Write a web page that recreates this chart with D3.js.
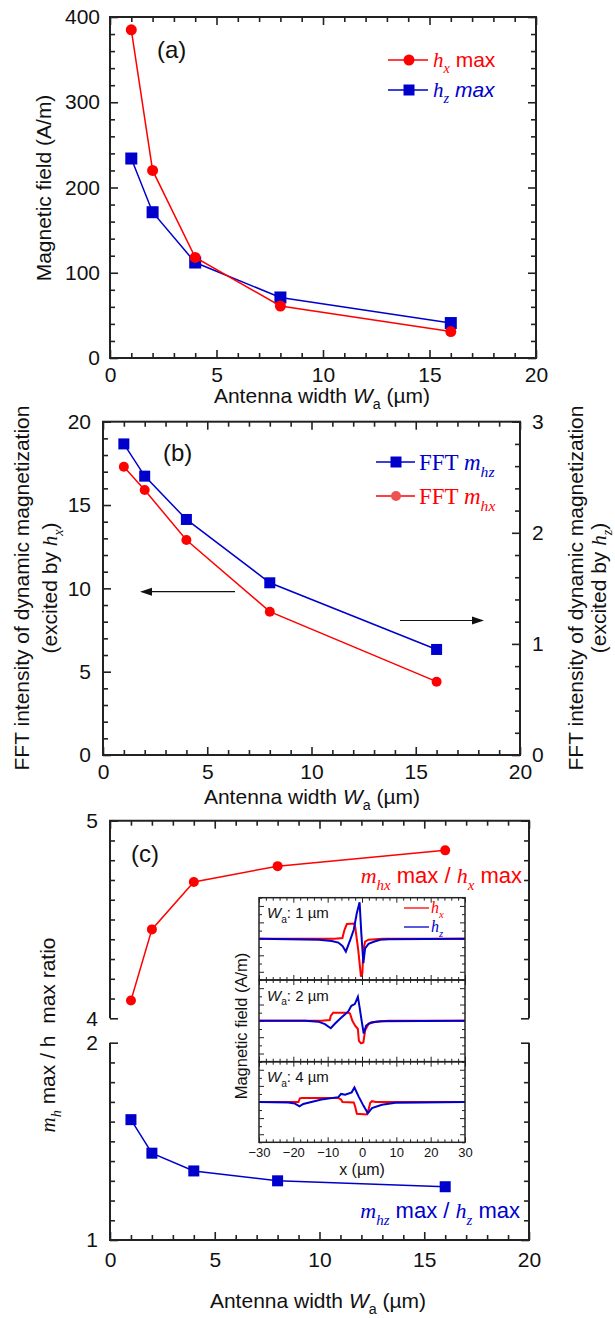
<!DOCTYPE html>
<html><head><meta charset="utf-8">
<script src="https://cdn.jsdelivr.net/npm/d3@7"></script>
<style>body{margin:0;background:#fff}svg{display:block}</style>
</head><body><svg id="chart" width="615" height="1318"></svg>
<script>
// ---------------- data ----------------
const widths = [1, 2, 4, 8, 16];
const hxMax = [385, 220, 118, 61, 31];
const hzMax = [234, 171, 112, 71, 41];
const fftMhx = [17.3, 15.9, 12.9, 8.6, 4.4];      // left axis (excited by hx)
const fftMhz = [2.80, 2.51, 2.12, 1.55, 0.95];    // right axis (excited by hz)
const ratioHx = [4.09, 4.45, 4.69, 4.77, 4.85];
const ratioHz = [1.61, 1.44, 1.35, 1.30, 1.27];
const xTicks = [0, 5, 10, 15, 20];
const fieldTicks = [0, 100, 200, 300, 400];
const fftLeftTicks = [0, 5, 10, 15, 20];
const fftRightTicks = [0, 1, 2, 3];
const ratioUpperTicks = [4, 5];
const ratioLowerTicks = [1, 2];
const insetXTicks = [-30, -20, -10, 0, 10, 20, 30];
const insetWidths = ["1", "2", "4"];
// inset field profiles: [x (µm), field (normalised)]
const profHx1 = [[-30,0],[-7.9,0],[-5.7,0.02],[-5.1,0.22],[-4.4,0.36],[-2.2,0.37],[-2.0,0.30],[-1.1,-0.27],[-0.3,-0.92],[0.1,-0.84],[0.4,-0.27],[0.9,-0.07],[1.9,-0.02],[3.9,-0.01],[6,0],[30,0]];
const profHz1 = [[-30,0],[-12.6,-0.02],[-8.8,-0.05],[-6.9,-0.09],[-5.7,-0.17],[-4.7,-0.31],[-3.4,-0.02],[-2.4,0.22],[-1.5,0.63],[-0.7,0.89],[-0.2,0.14],[0.4,-0.59],[0.9,-0.23],[1.9,-0.12],[3.4,-0.07],[5.3,-0.02],[7.8,-0.01],[30,0]];
const profHx2 = [[-30,0],[-11.8,0],[-9.4,0.02],[-9.1,0.12],[-8.4,0.2],[-4.0,0.2],[-3.5,0.18],[-2.8,0],[-2.0,-0.12],[-1.2,-0.2],[-0.9,-0.49],[-0.3,-0.55],[0.4,-0.53],[0.9,-0.24],[1.9,-0.07],[3.9,-0.02],[7.8,0],[30,0]];
const profHz2 = [[-30,0],[-16.6,0],[-12.7,-0.02],[-10.8,-0.08],[-9.1,-0.18],[-7.9,-0.07],[-6.0,0.08],[-4.0,0.23],[-3.1,0.37],[-2.1,0.41],[-1.2,0.59],[-0.7,0.33],[-0.1,0],[0.5,-0.31],[1.2,-0.12],[2.6,-0.04],[5.5,-0.01],[30,0]];
const profHx3 = [[-30,0],[-18.5,0],[-18.1,0.09],[-17.5,0.1],[-6.9,0.1],[-6.1,0.06],[-5.7,0],[-2.4,-0.01],[-2.0,-0.11],[-1.5,-0.29],[1.4,-0.31],[1.9,-0.19],[2.4,-0.02],[2.9,0.02],[4,0],[30,0]];
const profHz3 = [[-30,0],[-21.5,-0.01],[-19.5,-0.04],[-18.2,-0.11],[-17.1,-0.05],[-11.8,0.06],[-6.9,0.12],[-6.1,0.2],[-4.9,0.18],[-3.0,0.24],[-2.2,0.36],[-1.0,0.14],[0.4,-0.09],[1.7,-0.28],[2.9,-0.15],[5.8,-0.07],[9.7,-0.02],[17.5,-0.01],[30,0]];

// ---------------- style ----------------
const RED = "#ff0000", BLUE = "#0000cc", INK = "#222";
const SANS = "'Liberation Sans', Arial, sans-serif";
const SERIF = "'Liberation Serif', 'Times New Roman', serif";
const svg = d3.select("#chart").style("font-family", SANS);
const TFS = 21;   // tick label size
const LFS = 21;   // axis title size

function range(a, b, s) { const r = []; for (let v = a; v <= b + 1e-9; v += s) r.push(+v.toFixed(6)); return r; }

function rich(sel, parts, size) {
  let shift = 0;
  parts.forEach(p => {
    const ts = sel.append("tspan").text(p.t);
    ts.attr("font-size", p.sub ? size * 0.68 : size);
    if (p.serif) ts.attr("font-family", SERIF);
    if (p.it) ts.attr("font-style", "italic");
    const target = p.sub ? size * 0.3 : 0;
    ts.attr("dy", target - shift);
    shift = target;
  });
  return sel;
}

function axis(g, orient, scale, pos, major, minor, labels, o = {}) {
  const maj = o.maj ?? 8, mn = o.mn ?? 5, pad = o.pad ?? 8, fs = o.fs ?? TFS, sw = o.sw ?? 1.6;
  const Or = orient[0].toUpperCase() + orient.slice(1);
  const tr = (orient === "bottom" || orient === "top") ? `translate(0,${pos})` : `translate(${pos},0)`;
  const minVals = minor.filter(v => !major.some(m => Math.abs(m - v) < 1e-9));
  const a1 = d3[`axis${Or}`](scale).tickValues(minVals).tickSize(-mn).tickFormat("");
  const gm = g.append("g").attr("transform", tr).call(a1);
  const a2 = d3[`axis${Or}`](scale).tickValues(major).tickSize(-maj).tickPadding(pad)
    .tickFormat(labels ? (o.fmt || d3.format("")) : "");
  const gM = g.append("g").attr("transform", tr).call(a2);
  [gm, gM].forEach(s => {
    s.select(".domain").remove();
    s.selectAll("line").attr("stroke", INK).attr("stroke-width", sw);
    s.selectAll("text").attr("font-size", fs).attr("font-family", SANS).attr("fill", "#111");
  });
  return gM;
}

function series(g, xs, ys, xv, yv, color, shape, size) {
  const line = d3.line().x((d, i) => xs(xv[i])).y((d, i) => ys(yv[i]));
  g.append("path").datum(xv).attr("d", line).attr("fill", "none").attr("stroke", color).attr("stroke-width", 1.5);
  xv.forEach((x, i) => marker(g, xs(x), ys(yv[i]), color, shape, size));
}
function marker(g, cx, cy, color, shape, size) {
  if (shape === "c") g.append("circle").attr("cx", cx).attr("cy", cy).attr("r", size / 2).attr("fill", color);
  else g.append("rect").attr("x", cx - size / 2).attr("y", cy - size / 2).attr("width", size).attr("height", size).attr("fill", color);
}
function vlabel(g, x, y, parts, size, color) {
  const t = g.append("text").attr("transform", `translate(${x},${y}) rotate(-90)`)
    .attr("text-anchor", "middle").attr("fill", color || "#111");
  rich(t, parts, size);
}
function hlabel(g, x, y, parts, size, color, anchor) {
  const t = g.append("text").attr("x", x).attr("y", y).attr("text-anchor", anchor || "start").attr("fill", color || "#111");
  rich(t, parts, size);
  return t;
}
const xTitle = [{t: "Antenna width "}, {t: "W", it: true}, {t: "a", sub: true}, {t: " (\u00b5m)"}];

// ================= Panel (a) =================
{
  const g = svg.append("g");
  const x = d3.scaleLinear([0, 20], [110, 536]);
  const y = d3.scaleLinear([0, 400], [358, 17]);
  axis(g, "bottom", x, 358, xTicks, range(0, 20, 1), true, {pad: 9});
  axis(g, "top", x, 17, xTicks, range(0, 20, 1), false);
  axis(g, "left", y, 110, fieldTicks, range(0, 400, 20), true, {pad: 10});
  axis(g, "right", y, 536, fieldTicks, range(0, 400, 20), false);
  g.append("rect").attr("x", 110).attr("y", 17).attr("width", 426).attr("height", 341)
    .attr("fill", "none").attr("stroke", INK).attr("stroke-width", 2);
  series(g, x, y, widths, hzMax, BLUE, "s", 12);
  series(g, x, y, widths, hxMax, RED, "c", 11);
  hlabel(g, 157, 58, [{t: "(a)"}], 24);
  vlabel(g, 51, 188, [{t: "Magnetic field (A/m)"}], LFS);
  hlabel(g, 322, 403, xTitle, LFS, "#111", "middle");
  // legend
  g.append("line").attr("x1", 388).attr("x2", 428).attr("y1", 60).attr("y2", 60).attr("stroke", RED).attr("stroke-width", 1.5);
  marker(g, 409, 60, RED, "c", 11);
  hlabel(g, 433, 67, [{t: "h", it: true, serif: true}, {t: "x", it: true, serif: true, sub: true}, {t: " max"}], 21, RED);
  g.append("line").attr("x1", 388).attr("x2", 428).attr("y1", 90).attr("y2", 90).attr("stroke", BLUE).attr("stroke-width", 1.5);
  marker(g, 409, 90, BLUE, "s", 11);
  hlabel(g, 433, 97, [{t: "h", it: true, serif: true}, {t: "z", it: true, serif: true, sub: true}, {t: " max", it: true}], 21, BLUE);
}

// ================= Panel (b) =================
{
  const g = svg.append("g");
  const x = d3.scaleLinear([0, 20], [103, 520]);
  const yL = d3.scaleLinear([0, 20], [755, 421.7]);
  const yR = d3.scaleLinear([0, 3], [755, 421.7]);
  axis(g, "bottom", x, 755, xTicks, range(0, 20, 1), true, {pad: 9});
  axis(g, "top", x, 421.7, xTicks, range(0, 20, 1), false);
  axis(g, "left", yL, 103, fftLeftTicks, range(0, 20, 1), true, {pad: 12});
  axis(g, "right", yR, 520, fftRightTicks, range(0, 3, 0.2), true, {pad: 12});
  g.append("rect").attr("x", 103).attr("y", 421.7).attr("width", 417).attr("height", 333.3)
    .attr("fill", "none").attr("stroke", INK).attr("stroke-width", 2);
  series(g, x, yR, widths, fftMhz, BLUE, "s", 11);
  series(g, x, yL, widths, fftMhx, RED, "c", 10);
  hlabel(g, 163, 461, [{t: "(b)"}], 24);
  // arrows
  const arrow = (x1, x2, yy) => {
    const dir = Math.sign(x2 - x1);
    g.append("line").attr("x1", x1).attr("x2", x2 - dir * 9).attr("y1", yy).attr("y2", yy).attr("stroke", "#111").attr("stroke-width", 1.2);
    g.append("path").attr("d", `M${x2},${yy} L${x2 - dir * 12},${yy - 4} L${x2 - dir * 12},${yy + 4} Z`).attr("fill", "#111");
  };
  arrow(235, 140, 591.7);
  arrow(400, 484, 620.5);
  // legend
  g.append("line").attr("x1", 376).attr("x2", 415).attr("y1", 462).attr("y2", 462).attr("stroke", BLUE).attr("stroke-width", 1.5);
  marker(g, 396, 462, BLUE, "s", 11);
  hlabel(g, 419, 470, [{t: "FFT ", serif: true}, {t: "m", it: true, serif: true}, {t: "hz", it: true, serif: true, sub: true}], 23, BLUE);
  g.append("line").attr("x1", 376).attr("x2", 415).attr("y1", 496).attr("y2", 496).attr("stroke", RED).attr("stroke-width", 1.5);
  marker(g, 396, 496, "#f05050", "c", 10);
  hlabel(g, 419, 504, [{t: "FFT ", serif: true}, {t: "m", it: true, serif: true}, {t: "hx", it: true, serif: true, sub: true}], 23, RED);
  // titles
  vlabel(g, 29, 588, [{t: "FFT intensity of dynamic magnetization"}], LFS);
  vlabel(g, 57, 588, [{t: "(excited by "}, {t: "h", it: true, serif: true}, {t: "x", it: true, serif: true, sub: true}, {t: ")"}], LFS);
  vlabel(g, 583, 588, [{t: "FFT intensity of dynamic magnetization"}], LFS);
  vlabel(g, 606, 588, [{t: "(excited by "}, {t: "h", it: true, serif: true}, {t: "z", it: true, serif: true, sub: true}, {t: ")"}], LFS);
  hlabel(g, 312, 804, xTitle, LFS, "#111", "middle");
}

// ================= Panel (c) =================
{
  const g = svg.append("g");
  const x = d3.scaleLinear([0, 20], [110, 529]);
  const yU = d3.scaleLinear([4, 5], [1018.3, 820.7]);
  const yLo = d3.scaleLinear([1, 2], [1240, 1042.7]);
  axis(g, "top", x, 820.7, xTicks, range(0, 20, 1), false);
  axis(g, "bottom", x, 1240, xTicks, range(0, 20, 1), true, {pad: 12});
  axis(g, "left", yU, 110, ratioUpperTicks, range(4, 5, 0.1), true, {pad: 12});
  axis(g, "right", yU, 529, ratioUpperTicks, range(4, 5, 0.1), false);
  axis(g, "left", yLo, 110, ratioLowerTicks, range(1, 2, 0.1), true, {pad: 12});
  axis(g, "right", yLo, 529, ratioLowerTicks, range(1, 2, 0.1), false);
  const fr = g.append("g").attr("fill", "none").attr("stroke", INK).attr("stroke-width", 2);
  fr.append("path").attr("d", `M110,1018.3 V820.7 H529 V1018.3`);
  fr.append("path").attr("d", `M110,1042.7 V1240 H529 V1042.7`);
  series(g, x, yU, widths, ratioHx, RED, "c", 10);
  series(g, x, yLo, widths, ratioHz, BLUE, "s", 11);
  hlabel(g, 131, 862, [{t: "(c)"}], 24);
  hlabel(g, 522, 883, [{t: "m", it: true, serif: true}, {t: "hx", it: true, serif: true, sub: true}, {t: " max / "}, {t: "h", it: true, serif: true}, {t: "x", it: true, serif: true, sub: true}, {t: " max"}], 22, RED, "end");
  hlabel(g, 520, 1218, [{t: "m", it: true, serif: true}, {t: "hz", it: true, serif: true, sub: true}, {t: " max / "}, {t: "h", it: true, serif: true}, {t: "z", it: true, serif: true, sub: true}, {t: " max"}], 22, BLUE, "end");
  vlabel(g, 55, 1035, [{t: "m", it: true, serif: true}, {t: "h", it: true, serif: true, sub: true}, {t: " max / h\u00a0\u00a0max ratio"}], LFS);
  hlabel(g, 318, 1308, xTitle, LFS, "#111", "middle");

  // ---------- inset ----------
  const ig = g.append("g");
  const xi = d3.scaleLinear([-30, 30], [259, 465]);
  const tops = [897.7, 980, 1061.7], bots = [980, 1061.7, 1142.3];
  ig.append("rect").attr("x", 259).attr("y", 897.7).attr("width", 206).attr("height", 244.6).attr("fill", "#fff");
  const profs = [[profHx1, profHz1], [profHx2, profHz2], [profHx3, profHz3]];
  insetWidths.forEach((w, k) => {
    const yi = d3.scaleLinear([-1, 1], [bots[k], tops[k]]);
    const o = {maj: 5, mn: 3, sw: 1, fs: 13, pad: 5};
    axis(ig, "top", xi, tops[k], insetXTicks, range(-30, 30, 2), false, o);
    axis(ig, "bottom", xi, bots[k], insetXTicks, range(-30, 30, 2), k === 2, o);
    axis(ig, "left", yi, 259, [-0.8, -0.4, 0, 0.4, 0.8], range(-1, 1, 0.2), false, o);
    axis(ig, "right", yi, 465, [-0.8, -0.4, 0, 0.4, 0.8], range(-1, 1, 0.2), false, o);
    const ln = d3.line().x(d => xi(d[0])).y(d => yi(d[1]));
    ig.append("path").datum(profs[k][0]).attr("d", ln).attr("fill", "none").attr("stroke", RED).attr("stroke-width", 2);
    ig.append("path").datum(profs[k][1]).attr("d", ln).attr("fill", "none").attr("stroke", BLUE).attr("stroke-width", 2);
    ig.append("rect").attr("x", 259).attr("y", tops[k]).attr("width", 206).attr("height", bots[k] - tops[k])
      .attr("fill", "none").attr("stroke", INK).attr("stroke-width", 1.5);
    hlabel(ig, 267, tops[k] + 20.5, [{t: "W", it: true}, {t: "a", sub: true}, {t: ": " + w + " \u00b5m"}], 15);
  });
  ig.append("line").attr("x1", 404).attr("x2", 429).attr("y1", 908).attr("y2", 908).attr("stroke", RED).attr("stroke-width", 1.3);
  hlabel(ig, 431, 913, [{t: "h", it: true, serif: true}, {t: "x", it: true, serif: true, sub: true}], 16, RED);
  ig.append("line").attr("x1", 404).attr("x2", 429).attr("y1", 927).attr("y2", 927).attr("stroke", BLUE).attr("stroke-width", 1.3);
  hlabel(ig, 431, 932, [{t: "h", it: true, serif: true}, {t: "z", it: true, serif: true, sub: true}], 16, BLUE);
  vlabel(ig, 247, 1026, [{t: "Magnetic field (A/m)"}], 16.5);
  hlabel(ig, 362, 1175, [{t: "x (\u00b5m)"}], 16, "#111", "middle");
}
</script></body></html>
